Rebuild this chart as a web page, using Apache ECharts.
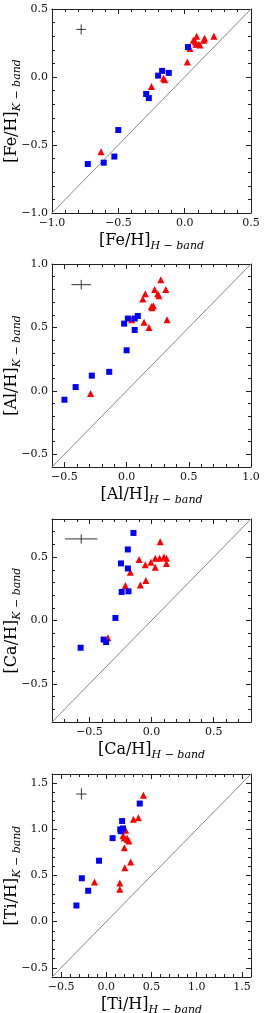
<!DOCTYPE html>
<html><head><meta charset="utf-8">
<script src="https://cdn.jsdelivr.net/npm/echarts@6/dist/echarts.min.js"></script>
<style>html,body{margin:0;padding:0;background:#fff}#c{width:266px;height:1013px}</style>
</head><body><div id="c"></div>
<script>
// ---- data ----
const elements = ['Fe/H', 'Al/H', 'Ca/H', 'Ti/H'];
const feRange = [-1.0, 0.5];
const alRange = [-0.6, 1.0];
const caRange = [-0.8, 0.8];
const tiRange = [-0.6, 1.6];
const feTicks = [-1.0, -0.5, 0.0, 0.5];
const alTicks = [-0.5, 0.0, 0.5, 1.0];
const caTicks = [-0.5, 0.0, 0.5];
const tiTicks = [-0.5, 0.0, 0.5, 1.0, 1.5];

const feSquares = [[0.025,0.22],[-0.20,0.01],[-0.17,0.045],[-0.12,0.03],[-0.29,-0.125],[-0.27,-0.155],[-0.50,-0.39],[-0.53,-0.585],[-0.61,-0.63],[-0.73,-0.64]];
const feTriangles = [[-0.63,-0.55],[-0.25,-0.07],[-0.16,-0.01],[-0.15,-0.02],[0.02,0.11],[0.04,0.21],[0.065,0.27],[0.08,0.26],[0.09,0.30],[0.085,0.24],[0.105,0.24],[0.115,0.235],[0.15,0.285],[0.145,0.27],[0.22,0.30]];

const alSquares = [[-0.50,-0.07],[-0.41,0.03],[-0.28,0.12],[-0.14,0.15],[0.0,0.32],[-0.02,0.53],[0.01,0.57],[0.065,0.48],[0.065,0.57],[0.09,0.59]];
const alTriangles = [[-0.29,-0.02],[0.04,0.56],[0.14,0.54],[0.18,0.50],[0.13,0.725],[0.15,0.765],[0.20,0.665],[0.215,0.67],[0.225,0.80],[0.275,0.875],[0.25,0.765],[0.26,0.75],[0.315,0.80],[0.325,0.56],[0.205,0.655]];

const caSquares = [[-0.57,-0.215],[-0.385,-0.15],[-0.365,-0.17],[-0.29,0.02],[-0.24,0.225],[-0.185,0.23],[-0.245,0.45],[-0.19,0.41],[-0.19,0.56],[-0.145,0.69]];
const caTriangles = [[-0.35,-0.135],[-0.21,0.275],[-0.17,0.38],[-0.10,0.48],[-0.09,0.28],[-0.045,0.315],[-0.05,0.44],[-0.005,0.46],[0.03,0.42],[0.03,0.49],[0.07,0.62],[0.065,0.49],[0.10,0.50],[0.12,0.49],[0.12,0.45]];

const tiSquares = [[-0.33,0.175],[-0.27,0.47],[-0.20,0.335],[-0.08,0.66],[0.07,0.905],[0.155,1.0],[0.16,0.98],[0.185,1.01],[0.175,1.09],[0.37,1.28]];
const tiTriangles = [[-0.13,0.43],[0.15,0.42],[0.15,0.35],[0.205,0.585],[0.27,0.645],[0.20,0.80],[0.185,0.93],[0.215,0.99],[0.23,0.905],[0.25,0.875],[0.235,0.89],[0.30,1.11],[0.355,1.125],[0.41,1.37],[0.20,0.91]];

// typical error bars: centre and half-sizes
const errCenters = [[-0.78, 0.35], [-0.365, 0.837], [-0.565, 0.643], [-0.275, 1.383]];
const errSizes = [[0.035, 0.037], [0.078, 0.038], [0.13, 0.037], [0.057, 0.06]];

// ---- chart ----
const ranges = [feRange, alRange, caRange, tiRange];
const ticks = [feTicks, alTicks, caTicks, tiTicks];
const squares = [feSquares, alSquares, caSquares, tiSquares];
const triangles = [feTriangles, alTriangles, caTriangles, tiTriangles];
const gridTops = [9, 264, 519, 774];
const gridHeights = [204, 203, 203, 203];

const FONT = 'DejaVu Serif';
const AX = '#222';
const fmt = v => (v < -1e-9 ? '\u2212' : '') + Math.abs(v).toFixed(1);
const rich = {
  m: { fontFamily: FONT, fontSize: 16, color: '#000', lineHeight: 22, verticalAlign: 'middle' },
  s: { fontFamily: FONT, fontSize: 11, fontStyle: 'italic', color: '#000', lineHeight: 11, verticalAlign: 'bottom' }
};

function makeAxes(dim, i) {
  const r = ranges[i], t = ticks[i];
  const posA = dim === 'x' ? 'bottom' : 'left';
  const posB = dim === 'x' ? 'top' : 'right';
  const sub = dim === 'x' ? 'H \u2212 band' : 'K \u2212 band';
  const base = { type: 'value', gridIndex: i, min: r[0], max: r[1], splitLine: { show: false } };
  const minor = pos => Object.assign({}, base, {
    position: pos, interval: 0.1,
    axisLine: { show: true, onZero: false, lineStyle: { color: AX, width: 1 } },
    axisTick: { show: true, inside: true, length: 3, lineStyle: { color: AX, width: 1 } },
    axisLabel: { show: false }
  });
  const major = pos => Object.assign({}, base, {
    position: pos,
    axisLine: { show: false, onZero: false },
    axisTick: { show: true, inside: true, length: 5, customValues: t, lineStyle: { color: AX, width: 1 } },
    axisLabel: { show: false }
  });
  const main = minor(posA);
  main.axisLabel = {
    show: true, margin: dim === 'x' ? 5 : 4, fontFamily: FONT, fontSize: 11, color: '#111',
    showMinLabel: true, showMaxLabel: true,
    formatter: v => { const n = t.find(k => Math.abs(k - v) < 1e-6); return n === undefined ? '' : fmt(n); }
  };
  main.name = '{m|[' + elements[i] + ']}{s|' + sub + '}';
  main.nameLocation = 'middle';
  main.nameGap = dim === 'x' ? 17 : 29;
  main.nameMoveOverlap = false;
  main.nameTextStyle = { rich: rich };
  return [main, major(posA), minor(posB), major(posB)];
}

const grid = [], xAxis = [], yAxis = [], series = [];
for (let i = 0; i < 4; i++) {
  grid.push({ left: 52, top: gridTops[i], width: 199, height: gridHeights[i], containLabel: false, outerBoundsMode: 'none' });
  xAxis.push(...makeAxes('x', i));
  yAxis.push(...makeAxes('y', i));
  const ax = { xAxisIndex: i * 4, yAxisIndex: i * 4 };
  const r = ranges[i];
  series.push(Object.assign({ type: 'line', data: [[r[0], r[0]], [r[1], r[1]]], symbol: 'none', silent: true,
    lineStyle: { color: '#888', width: 1 }, z: 1 }, ax));
  const c = errCenters[i], e = errSizes[i];
  series.push(Object.assign({ type: 'line', data: [[c[0] - e[0], c[1]], [c[0] + e[0], c[1]]], symbol: 'none', silent: true,
    lineStyle: { color: '#333', width: 1 }, z: 2 }, ax));
  series.push(Object.assign({ type: 'line', data: [[c[0], c[1] - e[1]], [c[0], c[1] + e[1]]], symbol: 'none', silent: true,
    lineStyle: { color: '#333', width: 1 }, z: 2 }, ax));
  series.push(Object.assign({ type: 'scatter', data: triangles[i], symbol: 'triangle', symbolSize: 7,
    itemStyle: { color: '#ff0000', opacity: 1 }, z: 3 }, ax));
  series.push(Object.assign({ type: 'scatter', data: squares[i], symbol: 'rect', symbolSize: 6,
    itemStyle: { color: '#0000ff', opacity: 1 }, z: 4 }, ax));
}

const chart = echarts.init(document.getElementById('c'), null, { renderer: 'canvas' });
chart.setOption({ animation: false, backgroundColor: '#fff', grid, xAxis, yAxis, series, tooltip: { show: false } });
</script>
</body></html>
